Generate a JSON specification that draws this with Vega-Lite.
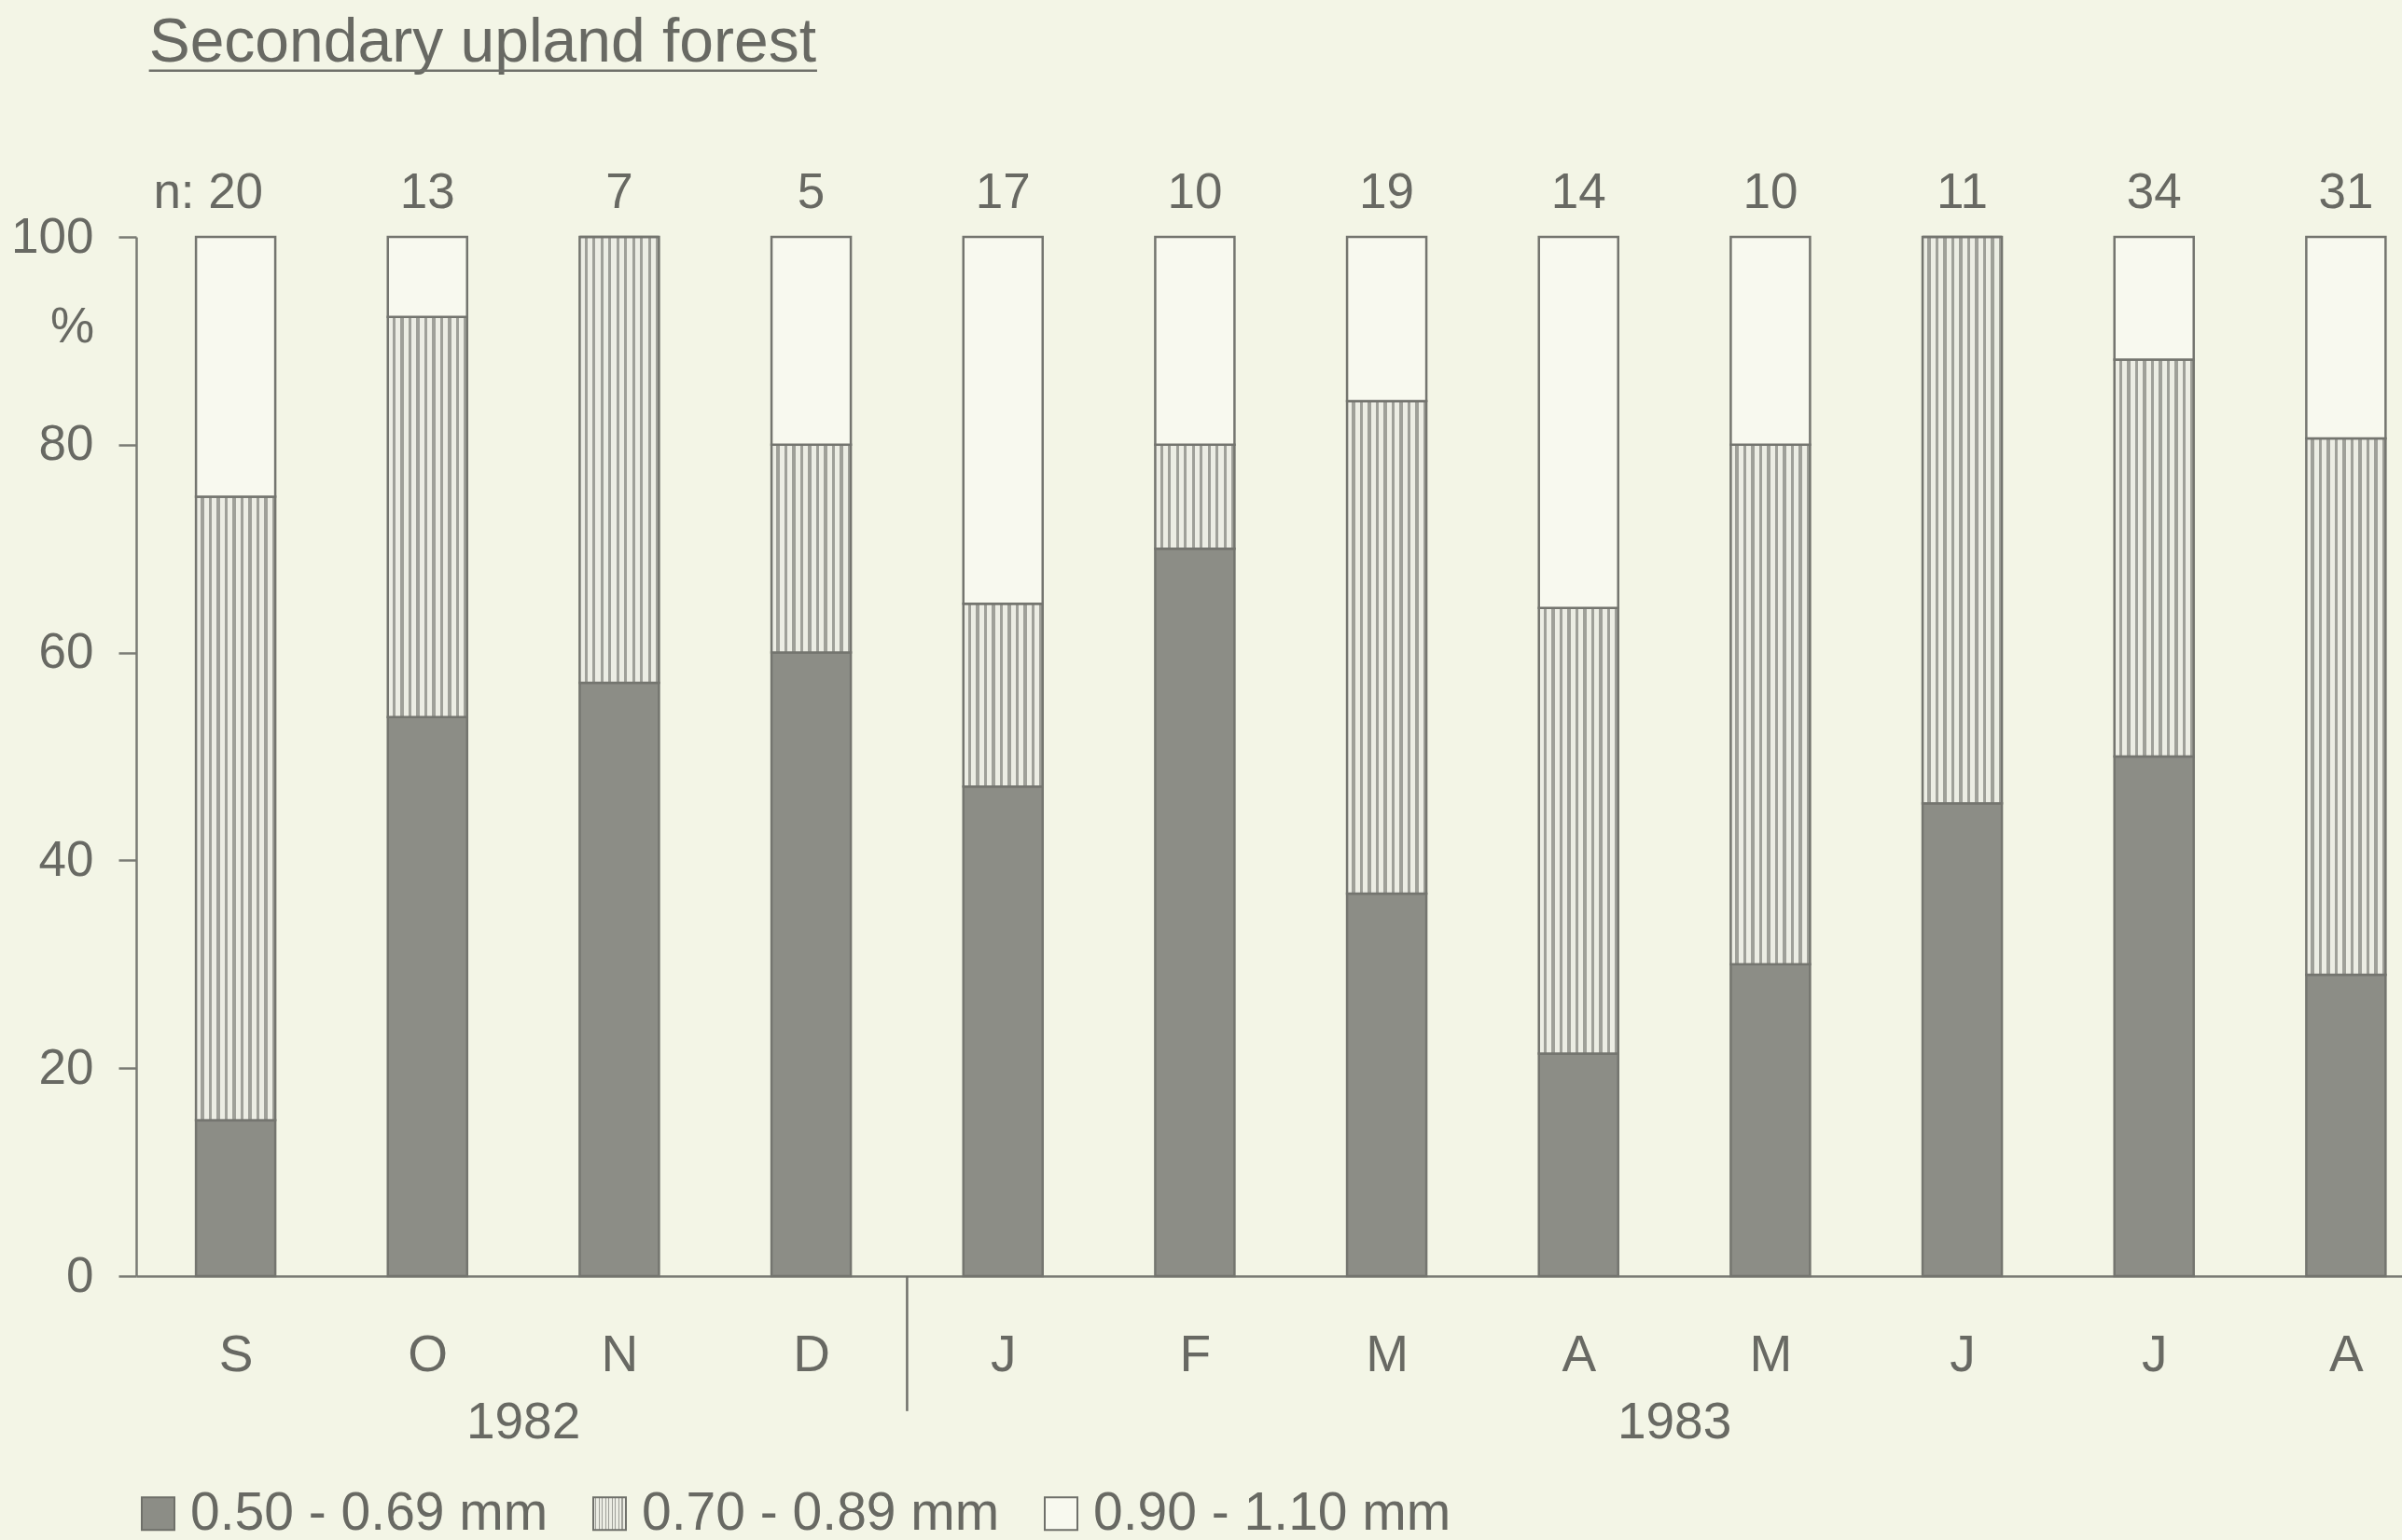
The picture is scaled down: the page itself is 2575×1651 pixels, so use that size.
{
  "$schema": "https://vega.github.io/schema/vega-lite/v6.json",
  "width": 2429,
  "height": 1114,
  "autosize": {"type": "none"},
  "padding": {"left": 146, "top": 254, "right": 0, "bottom": 283},
  "background": "#f3f5e6",
  "config": {
    "view": {"stroke": null},
    "font": "Liberation Sans",
    "text": {"font": "Liberation Sans", "color": "#686963"},
    "axis": {"labelFont": "Liberation Sans", "titleFont": "Liberation Sans", "labelColor": "#686963", "titleColor": "#686963", "domainColor": "#7a7b75", "tickColor": "#7a7b75", "domainWidth": 2.5, "tickWidth": 2.5, "grid": false}
  },
  "datasets": {
    "months": [
      {"idx": 0, "month": "S", "year": "1982", "n": 20},
      {"idx": 1, "month": "O", "year": "1982", "n": 13},
      {"idx": 2, "month": "N", "year": "1982", "n": 7},
      {"idx": 3, "month": "D", "year": "1982", "n": 5},
      {"idx": 4, "month": "J", "year": "1983", "n": 17},
      {"idx": 5, "month": "F", "year": "1983", "n": 10},
      {"idx": 6, "month": "M", "year": "1983", "n": 19},
      {"idx": 7, "month": "A", "year": "1983", "n": 14},
      {"idx": 8, "month": "M", "year": "1983", "n": 10},
      {"idx": 9, "month": "J", "year": "1983", "n": 11},
      {"idx": 10, "month": "J", "year": "1983", "n": 34},
      {"idx": 11, "month": "A", "year": "1983", "n": 31}
    ],
    "bars": [
      {"idx": 0, "cls": "0.50 - 0.69 mm", "ord": 1, "pct": 15},
      {"idx": 0, "cls": "0.70 - 0.89 mm", "ord": 2, "pct": 60},
      {"idx": 0, "cls": "0.90 - 1.10 mm", "ord": 3, "pct": 25},
      {"idx": 1, "cls": "0.50 - 0.69 mm", "ord": 1, "pct": 53.8},
      {"idx": 1, "cls": "0.70 - 0.89 mm", "ord": 2, "pct": 38.5},
      {"idx": 1, "cls": "0.90 - 1.10 mm", "ord": 3, "pct": 7.7},
      {"idx": 2, "cls": "0.50 - 0.69 mm", "ord": 1, "pct": 57.1},
      {"idx": 2, "cls": "0.70 - 0.89 mm", "ord": 2, "pct": 42.9},
      {"idx": 2, "cls": "0.90 - 1.10 mm", "ord": 3, "pct": 0},
      {"idx": 3, "cls": "0.50 - 0.69 mm", "ord": 1, "pct": 60},
      {"idx": 3, "cls": "0.70 - 0.89 mm", "ord": 2, "pct": 20},
      {"idx": 3, "cls": "0.90 - 1.10 mm", "ord": 3, "pct": 20},
      {"idx": 4, "cls": "0.50 - 0.69 mm", "ord": 1, "pct": 47.1},
      {"idx": 4, "cls": "0.70 - 0.89 mm", "ord": 2, "pct": 17.6},
      {"idx": 4, "cls": "0.90 - 1.10 mm", "ord": 3, "pct": 35.3},
      {"idx": 5, "cls": "0.50 - 0.69 mm", "ord": 1, "pct": 70},
      {"idx": 5, "cls": "0.70 - 0.89 mm", "ord": 2, "pct": 10},
      {"idx": 5, "cls": "0.90 - 1.10 mm", "ord": 3, "pct": 20},
      {"idx": 6, "cls": "0.50 - 0.69 mm", "ord": 1, "pct": 36.8},
      {"idx": 6, "cls": "0.70 - 0.89 mm", "ord": 2, "pct": 47.4},
      {"idx": 6, "cls": "0.90 - 1.10 mm", "ord": 3, "pct": 15.8},
      {"idx": 7, "cls": "0.50 - 0.69 mm", "ord": 1, "pct": 21.4},
      {"idx": 7, "cls": "0.70 - 0.89 mm", "ord": 2, "pct": 42.9},
      {"idx": 7, "cls": "0.90 - 1.10 mm", "ord": 3, "pct": 35.7},
      {"idx": 8, "cls": "0.50 - 0.69 mm", "ord": 1, "pct": 30},
      {"idx": 8, "cls": "0.70 - 0.89 mm", "ord": 2, "pct": 50},
      {"idx": 8, "cls": "0.90 - 1.10 mm", "ord": 3, "pct": 20},
      {"idx": 9, "cls": "0.50 - 0.69 mm", "ord": 1, "pct": 45.5},
      {"idx": 9, "cls": "0.70 - 0.89 mm", "ord": 2, "pct": 54.5},
      {"idx": 9, "cls": "0.90 - 1.10 mm", "ord": 3, "pct": 0},
      {"idx": 10, "cls": "0.50 - 0.69 mm", "ord": 1, "pct": 50},
      {"idx": 10, "cls": "0.70 - 0.89 mm", "ord": 2, "pct": 38.2},
      {"idx": 10, "cls": "0.90 - 1.10 mm", "ord": 3, "pct": 11.8},
      {"idx": 11, "cls": "0.50 - 0.69 mm", "ord": 1, "pct": 29.0},
      {"idx": 11, "cls": "0.70 - 0.89 mm", "ord": 2, "pct": 51.6},
      {"idx": 11, "cls": "0.90 - 1.10 mm", "ord": 3, "pct": 19.4}
    ]
  },
  "layer": [
    {
      "data": {"name": "bars"},
      "mark": {"type": "bar", "width": 85, "stroke": "#74756f", "strokeWidth": 2.5, "opacity": 1},
      "encoding": {
        "x": {
          "field": "idx", "type": "quantitative", "title": null,
          "scale": {"domain": [-0.494, 11.268], "nice": false, "zero": false},
          "axis": {"values": [0,1,2,3,4,5,6,7,8,9,10,11], "labelExpr": "['S','O','N','D','J','F','M','A','M','J','J','A'][datum.value]", "ticks": false, "labelFontSize": 55, "labelPadding": 58, "labelBaseline": "top", "labelFlush": false, "labelOverlap": false, "title": null}
        },
        "y": {
          "field": "pct", "type": "quantitative", "stack": "zero",
          "scale": {"domain": [0, 100], "nice": false},
          "axis": {"values": [0,20,40,60,80,100], "tickSize": 19, "labelFontSize": 53, "labelPadding": 27, "title": "%", "titleAngle": 0, "titleX": -69, "titleY": 96, "titleAlign": "center", "titleBaseline": "middle", "titleFontSize": 53, "titleFontWeight": "normal"}
        },
        "fill": {
          "field": "cls", "type": "nominal",
          "scale": {
            "domain": ["0.50 - 0.69 mm", "0.70 - 0.89 mm", "0.90 - 1.10 mm"],
            "range": [
              "#8c8d86",
              {"expr": "{gradient:'linear',x1:0,y1:0,x2:1,y2:0,stops:[{offset:0,color:'#ecede4'},{offset:0.06,color:'#ecede4'},{offset:0.06,color:'#9fa099'},{offset:0.1,color:'#9fa099'},{offset:0.1,color:'#ecede4'},{offset:0.16,color:'#ecede4'},{offset:0.16,color:'#9fa099'},{offset:0.2,color:'#9fa099'},{offset:0.2,color:'#ecede4'},{offset:0.26,color:'#ecede4'},{offset:0.26,color:'#9fa099'},{offset:0.3,color:'#9fa099'},{offset:0.3,color:'#ecede4'},{offset:0.36,color:'#ecede4'},{offset:0.36,color:'#9fa099'},{offset:0.4,color:'#9fa099'},{offset:0.4,color:'#ecede4'},{offset:0.46,color:'#ecede4'},{offset:0.46,color:'#9fa099'},{offset:0.5,color:'#9fa099'},{offset:0.5,color:'#ecede4'},{offset:0.56,color:'#ecede4'},{offset:0.56,color:'#9fa099'},{offset:0.6,color:'#9fa099'},{offset:0.6,color:'#ecede4'},{offset:0.66,color:'#ecede4'},{offset:0.66,color:'#9fa099'},{offset:0.7,color:'#9fa099'},{offset:0.7,color:'#ecede4'},{offset:0.76,color:'#ecede4'},{offset:0.76,color:'#9fa099'},{offset:0.8,color:'#9fa099'},{offset:0.8,color:'#ecede4'},{offset:0.86,color:'#ecede4'},{offset:0.86,color:'#9fa099'},{offset:0.9,color:'#9fa099'},{offset:0.9,color:'#ecede4'},{offset:0.96,color:'#ecede4'},{offset:0.96,color:'#9fa099'},{offset:1,color:'#9fa099'}]}"},
              "#f8f9ef"
            ]
          },
          "legend": {"orient": "none", "legendX": -5, "legendY": 1340, "direction": "horizontal", "title": null, "symbolType": "square", "symbolSize": 1225, "symbolStrokeColor": "#6f706a", "symbolStrokeWidth": 2, "symbolOpacity": 1, "labelFontSize": 57, "labelFont": "Liberation Sans", "labelColor": "#686963", "labelOffset": 6, "columnPadding": 37, "labelLimit": 0}
        },
        "order": {"field": "ord", "type": "quantitative"}
      }
    },
    {
      "data": {"name": "months"},
      "mark": {"type": "text", "fontSize": 53, "align": "center", "baseline": "middle", "color": "#686963"},
      "encoding": {
        "x": {"field": "idx", "type": "quantitative", "title": null},
        "y": {"datum": 104.2},
        "text": {"field": "n", "type": "quantitative"}
      }
    },
    {
      "data": {"values": [{"label": "n:"}]},
      "mark": {"type": "text", "fontSize": 53, "align": "right", "baseline": "middle", "dx": -44, "color": "#686963"},
      "encoding": {
        "x": {"datum": 0},
        "y": {"datum": 104.2},
        "text": {"field": "label", "type": "nominal"}
      }
    },
    {
      "data": {"name": "months"},
      "transform": [{"aggregate": [{"op": "mean", "field": "idx", "as": "mid"}], "groupby": ["year"]}],
      "mark": {"type": "text", "fontSize": 55, "align": "center", "baseline": "middle", "color": "#686963"},
      "encoding": {
        "x": {"field": "mid", "type": "quantitative", "title": null},
        "y": {"datum": -14.1},
        "text": {"field": "year", "type": "nominal"}
      }
    },
    {
      "data": {"values": [{"split": 3.5}]},
      "mark": {"type": "rule", "stroke": "#6f706a", "strokeWidth": 2.5},
      "encoding": {
        "x": {"field": "split", "type": "quantitative", "title": null},
        "y": {"datum": 0},
        "y2": {"datum": -13}
      }
    },
    {
      "data": {"values": [{"title": "Secondary upland forest"}]},
      "mark": {"type": "text", "fontSize": 66, "align": "left", "baseline": "alphabetic", "color": "#686963"},
      "encoding": {
        "x": {"datum": -0.452},
        "y": {"datum": 116.9},
        "text": {"field": "title", "type": "nominal"}
      }
    },
    {
      "data": {"values": [{"a": 1}]},
      "mark": {"type": "rule", "stroke": "#6f706a", "strokeWidth": 2.5},
      "encoding": {
        "x": {"datum": -0.452},
        "x2": {"datum": 3.031},
        "y": {"datum": 116.0}
      }
    }
  ]
}
